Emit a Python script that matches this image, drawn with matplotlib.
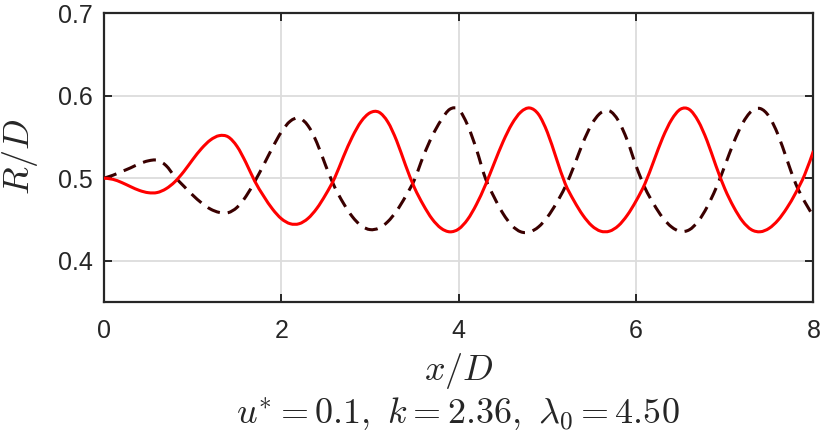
import numpy as np
import matplotlib
matplotlib.use('Agg')
import matplotlib.pyplot as plt
from matplotlib.path import Path
from matplotlib.patches import PathPatch

# x positions (x/D)
x = [round(0.1 * i, 1) for i in range(81)]

# solid red curve R/D
r_solid = [0.5000, 0.4986, 0.4947, 0.4897, 0.4851, 0.4824, 0.4826, 0.4872, 0.4957, 0.5080,
           0.5225, 0.5359, 0.5462, 0.5515, 0.5500, 0.5385, 0.5189, 0.4963, 0.4783, 0.4626,
           0.4509, 0.4448, 0.4448, 0.4512, 0.4634, 0.4802, 0.5000, 0.5260, 0.5500, 0.5687,
           0.5792, 0.5799, 0.5681, 0.5453, 0.5157, 0.4886, 0.4677, 0.4506, 0.4394, 0.4350,
           0.4385, 0.4500, 0.4683, 0.4915, 0.5181, 0.5442, 0.5657, 0.5801, 0.5850, 0.5772,
           0.5554, 0.5241, 0.4934, 0.4725, 0.4551, 0.4424, 0.4358, 0.4358, 0.4424, 0.4551,
           0.4725, 0.4934, 0.5210, 0.5490, 0.5708, 0.5835, 0.5832, 0.5692, 0.5453, 0.5150,
           0.4872, 0.4651, 0.4479, 0.4376, 0.4351, 0.4393, 0.4491, 0.4638, 0.4822, 0.5040,
           0.5330]

# dashed dark curve R/D
r_dashed = [0.5000, 0.5035, 0.5080, 0.5125, 0.5175, 0.5210, 0.5217, 0.5152, 0.5016, 0.4903,
            0.4795, 0.4700, 0.4626, 0.4585, 0.4582, 0.4646, 0.4778, 0.4960, 0.5160, 0.5370,
            0.5560, 0.5690, 0.5728, 0.5636, 0.5430, 0.5151, 0.4894, 0.4696, 0.4534, 0.4423,
            0.4377, 0.4395, 0.4473, 0.4604, 0.4778, 0.4979, 0.5264, 0.5508, 0.5700, 0.5835,
            0.5830, 0.5642, 0.5348, 0.5000, 0.4768, 0.4570, 0.4426, 0.4350, 0.4348, 0.4410,
            0.4529, 0.4695, 0.4894, 0.5147, 0.5428, 0.5654, 0.5790, 0.5815, 0.5696, 0.5459,
            0.5148, 0.4882, 0.4684, 0.4521, 0.4409, 0.4355, 0.4375, 0.4477, 0.4650, 0.4876,
            0.5148, 0.5431, 0.5663, 0.5810, 0.5843, 0.5746, 0.5527, 0.5227, 0.4931, 0.4716,
            0.4539]

xticks = [0, 2, 4, 6, 8]
yticks = [0.4, 0.5, 0.6, 0.7]


def smooth_path(xs, ys):
    # Catmull-Rom through the read points, drawn as cubic Bezier segments
    p = np.column_stack([xs, ys])
    pp = np.vstack([p[0], p, p[-1]])
    verts = [p[0]]
    codes = [Path.MOVETO]
    for i in range(len(p) - 1):
        p0, p1, p2, p3 = pp[i], pp[i + 1], pp[i + 2], pp[i + 3]
        verts += [p1 + (p2 - p0) / 6, p2 - (p3 - p1) / 6, p2]
        codes += [Path.CURVE4] * 3
    return Path(verts, codes)


plt.rcParams['font.family'] = ['Liberation Sans', 'DejaVu Sans']
plt.rcParams['mathtext.fontset'] = 'cm'

fig = plt.figure(figsize=(8.3, 4.37), dpi=100)
ax = fig.add_axes([0.1253, 0.3089, 0.8548, 0.6613])

lw = 2.2
ax.add_patch(PathPatch(smooth_path(x, r_dashed), fill=False, edgecolor='#3a0000',
                       lw=lw, ls=(0, (4.3, 2.6)), zorder=3))
ax.add_patch(PathPatch(smooth_path(x, r_solid), fill=False, edgecolor='#ff0000',
                       lw=lw, zorder=4))

ax.set_xlim(0, 8)
ax.set_ylim(0.35, 0.7)
ax.set_xticks(xticks)
ax.set_yticks(yticks)
ax.set_xticklabels([str(t) for t in xticks])
ax.set_yticklabels(['%.1f' % t for t in yticks])

ax.grid(True, color='#dcdcdc', lw=1.3)
ax.set_axisbelow(True)
for s in ax.spines.values():
    s.set_color('#262626')
    s.set_linewidth(1.6)

ax.tick_params(direction='in', length=6, width=1.4, color='#262626',
               labelcolor='#262626', labelsize=18, top=True, right=True)
ax.tick_params(axis='x', pad=12)
ax.tick_params(axis='y', pad=8)

fig.text(0.5524, 0.1304, '$x/D$', fontsize=26, ha='center', va='baseline', color='#262626')
fig.text(0.0241, 0.6407, '$R/D$', fontsize=26, ha='center', va='center',
         rotation=90, color='#262626')
fig.text(0.5512, 0.032, r'$u^{*}=0.1,\ k=2.36,\ \lambda_0=4.50$', fontsize=26,
         ha='center', va='baseline', color='#262626')

fig.savefig('out.png', dpi=100)
